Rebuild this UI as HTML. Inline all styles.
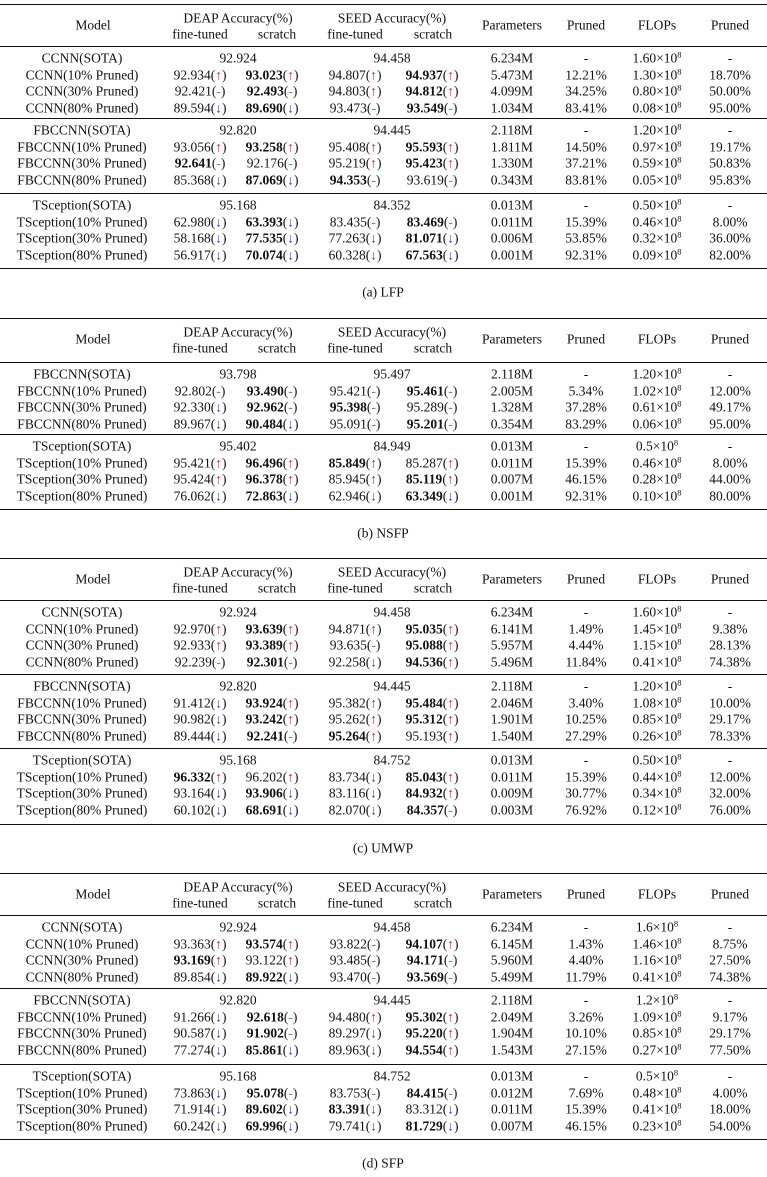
<!DOCTYPE html>
<html><head><meta charset="utf-8">
<style>
body{margin:0;background:#fff;}
#root{position:relative;width:767px;height:1177px;overflow:hidden;font-family:"Liberation Serif",serif;font-size:13.5px;color:#111;}
.t{position:absolute;white-space:nowrap;transform:translate(-50%,-50%);line-height:1;}
.r{position:absolute;left:0;width:767px;height:1px;background:#111;}
.up{color:#e0202a;}
.dn{color:#2a3fd8;}
.eq{color:#2aa0c8;}
sup{font-size:8.5px;vertical-align:5px;line-height:0;}
</style></head>
<body>
<div id="root"></div>
<script>
// data: each row [label, deapFT, deapScratch, seedFT, seedScratch, params, pruned, flops, flopsPruned]
// values prefixed with * are bold; suffix u=up, d=down, e=no change
const captions = ["(a) LFP","(b) NSFP","(c) UMWP","(d) SFP"];
const tableLFP = [
 [["CCNN(SOTA)","92.924","94.458","6.234M","-","1.60","-"],
  ["CCNN(10% Pruned)","92.934u","*93.023u","94.807u","*94.937u","5.473M","12.21%","1.30","18.70%"],
  ["CCNN(30% Pruned)","92.421e","*92.493e","94.803u","*94.812u","4.099M","34.25%","0.80","50.00%"],
  ["CCNN(80% Pruned)","89.594d","*89.690d","93.473e","*93.549e","1.034M","83.41%","0.08","95.00%"]],
 [["FBCCNN(SOTA)","92.820","94.445","2.118M","-","1.20","-"],
  ["FBCCNN(10% Pruned)","93.056u","*93.258u","95.408u","*95.593u","1.811M","14.50%","0.97","19.17%"],
  ["FBCCNN(30% Pruned)","*92.641e","92.176e","95.219u","*95.423u","1.330M","37.21%","0.59","50.83%"],
  ["FBCCNN(80% Pruned)","85.368d","*87.069d","*94.353e","93.619e","0.343M","83.81%","0.05","95.83%"]],
 [["TSception(SOTA)","95.168","84.352","0.013M","-","0.50","-"],
  ["TSception(10% Pruned)","62.980d","*63.393d","83.435e","*83.469e","0.011M","15.39%","0.46","8.00%"],
  ["TSception(30% Pruned)","58.168d","*77.535d","77.263d","*81.071d","0.006M","53.85%","0.32","36.00%"],
  ["TSception(80% Pruned)","56.917d","*70.074d","60.328d","*67.563d","0.001M","92.31%","0.09","82.00%"]]
];
const tableNSFP = [
 [["FBCCNN(SOTA)","93.798","95.497","2.118M","-","1.20","-"],
  ["FBCCNN(10% Pruned)","92.802e","*93.490e","95.421e","*95.461e","2.005M","5.34%","1.02","12.00%"],
  ["FBCCNN(30% Pruned)","92.330d","*92.962e","*95.398e","95.289e","1.328M","37.28%","0.61","49.17%"],
  ["FBCCNN(80% Pruned)","89.967d","*90.484d","95.091e","*95.201e","0.354M","83.29%","0.06","95.00%"]],
 [["TSception(SOTA)","95.402","84.949","0.013M","-","0.5","-"],
  ["TSception(10% Pruned)","95.421u","*96.496u","*85.849u","85.287u","0.011M","15.39%","0.46","8.00%"],
  ["TSception(30% Pruned)","95.424u","*96.378u","85.945u","*85.119u","0.007M","46.15%","0.28","44.00%"],
  ["TSception(80% Pruned)","76.062d","*72.863d","62.946d","*63.349d","0.001M","92.31%","0.10","80.00%"]]
];
const tableUMWP = [
 [["CCNN(SOTA)","92.924","94.458","6.234M","-","1.60","-"],
  ["CCNN(10% Pruned)","92.970u","*93.639u","94.871u","*95.035u","6.141M","1.49%","1.45","9.38%"],
  ["CCNN(30% Pruned)","92.933u","*93.389u","93.635e","*95.088u","5.957M","4.44%","1.15","28.13%"],
  ["CCNN(80% Pruned)","92.239e","*92.301e","92.258d","*94.536u","5.496M","11.84%","0.41","74.38%"]],
 [["FBCCNN(SOTA)","92.820","94.445","2.118M","-","1.20","-"],
  ["FBCCNN(10% Pruned)","91.412d","*93.924u","95.382u","*95.484u","2.046M","3.40%","1.08","10.00%"],
  ["FBCCNN(30% Pruned)","90.982d","*93.242u","95.262u","*95.312u","1.901M","10.25%","0.85","29.17%"],
  ["FBCCNN(80% Pruned)","89.444d","*92.241e","*95.264u","95.193u","1.540M","27.29%","0.26","78.33%"]],
 [["TSception(SOTA)","95.168","84.752","0.013M","-","0.50","-"],
  ["TSception(10% Pruned)","*96.332u","96.202u","83.734d","*85.043u","0.011M","15.39%","0.44","12.00%"],
  ["TSception(30% Pruned)","93.164d","*93.906d","83.116d","*84.932u","0.009M","30.77%","0.34","32.00%"],
  ["TSception(80% Pruned)","60.102d","*68.691d","82.070d","*84.357e","0.003M","76.92%","0.12","76.00%"]]
];
const tableSFP = [
 [["CCNN(SOTA)","92.924","94.458","6.234M","-","1.6","-"],
  ["CCNN(10% Pruned)","93.363u","*93.574u","93.822e","*94.107u","6.145M","1.43%","1.46","8.75%"],
  ["CCNN(30% Pruned)","*93.169u","93.122u","93.485e","*94.171e","5.960M","4.40%","1.16","27.50%"],
  ["CCNN(80% Pruned)","89.854d","*89.922d","93.470e","*93.569e","5.499M","11.79%","0.41","74.38%"]],
 [["FBCCNN(SOTA)","92.820","94.445","2.118M","-","1.2","-"],
  ["FBCCNN(10% Pruned)","91.266d","*92.618e","94.480u","*95.302u","2.049M","3.26%","1.09","9.17%"],
  ["FBCCNN(30% Pruned)","90.587d","*91.902e","89.297d","*95.220u","1.904M","10.10%","0.85","29.17%"],
  ["FBCCNN(80% Pruned)","77.274d","*85.861d","89.963d","*94.554u","1.543M","27.15%","0.27","77.50%"]],
 [["TSception(SOTA)","95.168","84.752","0.013M","-","0.5","-"],
  ["TSception(10% Pruned)","73.863d","*95.078e","83.753e","*84.415e","0.012M","7.69%","0.48","4.00%"],
  ["TSception(30% Pruned)","71.914d","*89.602d","*83.391d","83.312d","0.011M","15.39%","0.41","18.00%"],
  ["TSception(80% Pruned)","60.242d","*69.996d","79.741d","*81.729d","0.007M","46.15%","0.23","54.00%"]]
];
const tables = [tableLFP, tableNSFP, tableUMWP, tableSFP];
// layout: rule y positions per table (top, header-bottom, group separators..., bottom)
const ruleYs = [[4,46,118,193,268],[318,362,434,509],[558,600,674,748,824],[873,915,988,1064,1139]];
const X = {label:82, dft:200, ds:272, sft:355, ss:432, par:512, pr:586, fl:657, fpr:730, deap:238, seed:392};
const root = document.getElementById('root');

function put(x,y,html,name){
  const d=document.createElement('div');
  d.className='t';
  d.style.left=x+'px'; d.style.top=y+'px';
  d.innerHTML=html;
  
  
  root.appendChild(d);
}
function rule(y,name){
  const d=document.createElement('div');
  d.className='r'; d.style.top=y+'px';
  
  
  root.appendChild(d);
}
function acc(v){
  let bold=false;
  if(v[0]==='*'){bold=true;v=v.slice(1);}
  const m=v.slice(-1), num=v.slice(0,-1);
  const mk = m==='u'?'<span class="up">↑</span>':m==='d'?'<span class="dn">↓</span>':'<span class="eq">-</span>';
  return (bold?'<b>'+num+'</b>':num)+'('+mk+')';
}
function fl(v){ return v==='-'?'-':v+'×10<sup>8</sup>'; }

tables.forEach((tbl,ti)=>{
  const R=ruleYs[ti];
  R.forEach((y,i)=>rule(y, i===0?'table-top-rule':i===R.length-1?'table-bottom-rule':'row-rule'));
  const t=R[0];
  put(93,t+21,'Model','model-header');
  put(X.deap,t+14,'DEAP Accuracy(%)','deap-header');
  put(X.seed,t+14,'SEED Accuracy(%)','seed-header');
  put(X.dft,t+30,'fine-tuned','deap-finetuned-header');
  put(277,t+30,'scratch','deap-scratch-header');
  put(X.sft,t+30,'fine-tuned','seed-finetuned-header');
  put(433,t+30,'scratch','seed-scratch-header');
  put(X.par,t+21,'Parameters','parameters-header');
  put(X.pr,t+21,'Pruned','params-pruned-header');
  put(X.fl,t+21,'FLOPs','flops-header');
  put(X.fpr,t+21,'Pruned','flops-pruned-header');
  tbl.forEach((grp,gi)=>{
    const y0=R[gi+1]+12;
    grp.forEach((row,ri)=>{
      const y=y0+ri*16.6;
      put(X.label,y,row[0],'model-name');
      if(ri===0){
        put(X.deap,y,row[1],'deap-sota');
        put(X.seed,y,row[2],'seed-sota');
        put(X.par,y,row[3],'parameters');
        put(X.pr,y,row[4],'params-pruned');
        put(X.fl,y,fl(row[5]),'flops');
        put(X.fpr,y,row[6],'flops-pruned');
      } else {
        put(X.dft,y,acc(row[1]),'deap-finetuned');
        put(X.ds,y,acc(row[2]),'deap-scratch');
        put(X.sft,y,acc(row[3]),'seed-finetuned');
        put(X.ss,y,acc(row[4]),'seed-scratch');
        put(X.par,y,row[5],'parameters');
        put(X.pr,y,row[6],'params-pruned');
        put(X.fl,y,fl(row[7]),'flops');
        put(X.fpr,y,row[8],'flops-pruned');
      }
    });
  });
  put(383,R[R.length-1]+24,captions[ti],'table-caption');
});
</script>
</body></html>
